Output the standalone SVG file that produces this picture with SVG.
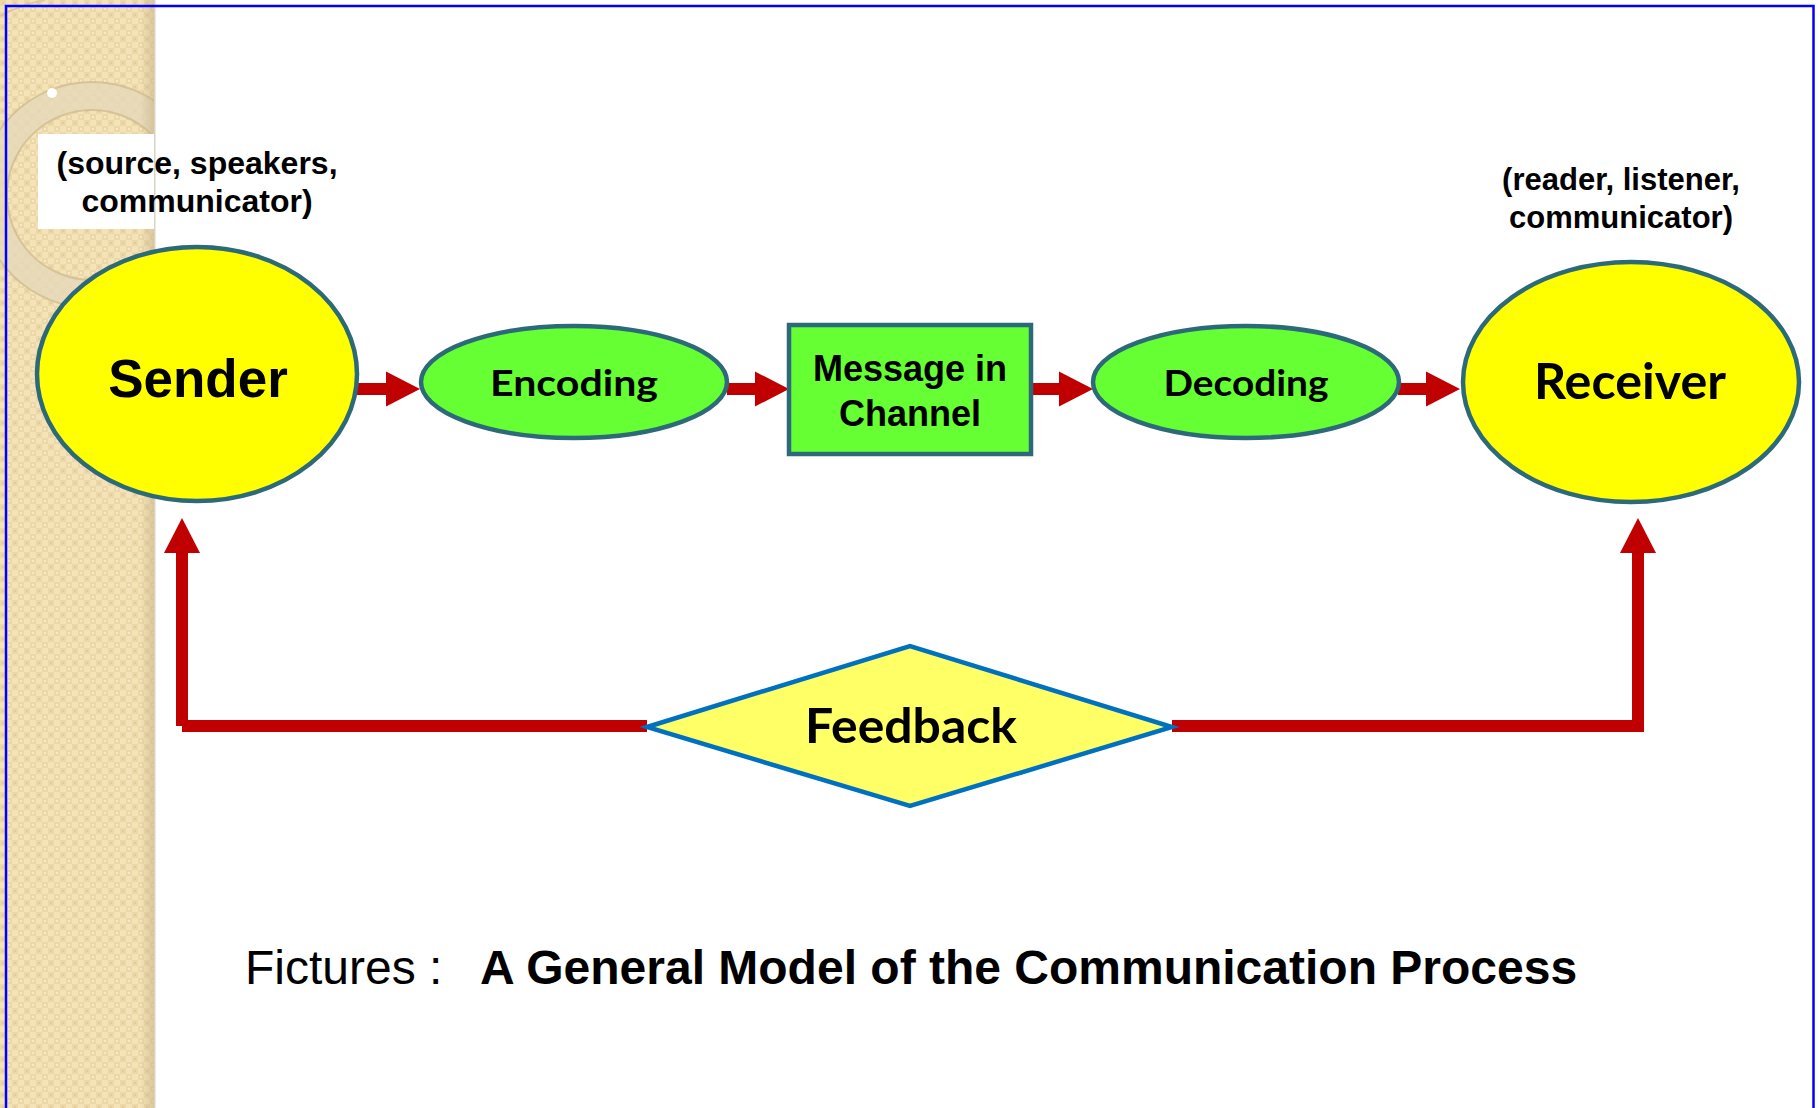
<svg xmlns="http://www.w3.org/2000/svg" width="1820" height="1108" viewBox="0 0 1820 1108">
  <defs>
    <pattern id="chk" x="0" y="0" width="12" height="12" patternUnits="userSpaceOnUse">
      <rect width="12" height="12" fill="#f5e3b8"/>
      <rect x="0" y="0" width="6" height="6" fill="#ecd7a9"/>
      <rect x="6" y="6" width="6" height="6" fill="#ecd7a9"/>
      <rect x="2" y="2" width="2" height="2" fill="#e3cc9c"/>
      <rect x="8" y="8" width="2" height="2" fill="#f8e9c4"/>
    </pattern>
    <linearGradient id="edge" x1="0" y1="0" x2="1" y2="0">
      <stop offset="0" stop-color="#c9b58a" stop-opacity="0"/>
      <stop offset="1" stop-color="#c9b58a" stop-opacity="0.6"/>
    </linearGradient>
    <clipPath id="stripclip">
      <rect x="0" y="0" width="154" height="1108"/>
    </clipPath>
    <style>
      .big { fill: #ffff00; stroke: #2d6a79; stroke-width: 4.5; }
      .green { fill: #66ff33; stroke: #2d6a79; stroke-width: 4.5; }
      .arrowhead { fill: #c00000; }
      .shaft { stroke: #c00000; stroke-width: 12; fill: none; }
      .fb { stroke: #c00000; stroke-width: 12; fill: none; }
      .arial { font-family: "Liberation Sans", Arial, sans-serif; font-weight: bold; fill: #000; text-anchor: middle; }
      .gill { font-family: Lato, "Open Sans", sans-serif; font-weight: bold; fill: #000; text-anchor: middle; }
    </style>
  </defs>

  <!-- background -->
  <rect x="0" y="0" width="1820" height="1108" fill="#ffffff"/>
  <g id="side-strip">
    <rect x="0" y="0" width="154" height="1108" fill="url(#chk)"/>
    <g clip-path="url(#stripclip)">
      <path d="M 0 16 A 160 160 0 0 1 45 0" fill="none" stroke="#d8c49a" stroke-width="2" opacity="0.8"/>
      <circle cx="92" cy="195" r="99" fill="none" stroke="#e6d8b8" stroke-width="28" opacity="0.85"/>
      <circle cx="92" cy="195" r="113" fill="none" stroke="#cdb88c" stroke-width="2" opacity="0.7"/>
      <circle cx="92" cy="195" r="85" fill="none" stroke="#cdb88c" stroke-width="2" opacity="0.7"/>
      <circle cx="52" cy="93" r="5" fill="#ffffff"/>
    </g>
    <rect x="140" y="0" width="14" height="1108" fill="url(#edge)"/>
    <rect x="154" y="0" width="1.5" height="1108" fill="#d9d3c6"/>
  </g>
  <rect id="frame" x="6" y="6" width="1807.5" height="1120" fill="none" stroke="#0000ff" stroke-width="2.5"/>

  <!-- connectors -->
  <g id="connectors">
    <line class="shaft" x1="356" y1="389" x2="388" y2="389"/>
    <polygon class="arrowhead" points="386,371.5 420,389 386,406.5"/>
    <line class="shaft" x1="727" y1="389" x2="757" y2="389"/>
    <polygon class="arrowhead" points="755,371.5 789,389 755,406.5"/>
    <line class="shaft" x1="1031" y1="389" x2="1061" y2="389"/>
    <polygon class="arrowhead" points="1059,371.5 1093,389 1059,406.5"/>
    <line class="shaft" x1="1398" y1="389" x2="1428" y2="389"/>
    <polygon class="arrowhead" points="1426,371.5 1460,389 1426,406.5"/>

    <line class="fb" x1="647" y1="726" x2="182" y2="726"/>
    <line class="fb" x1="182" y1="726" x2="182" y2="552"/>
    <polygon class="arrowhead" points="164,553 182,518 200,553"/>

    <line class="fb" x1="1172" y1="726" x2="1638" y2="726"/>
    <line class="fb" x1="1638" y1="732" x2="1638" y2="552"/>
    <polygon class="arrowhead" points="1620,553 1638,518 1656,553"/>
  </g>

  <!-- sender -->
  <g id="sender-label">
    <rect x="38" y="134" width="116" height="95" fill="#ffffff"/>
    <text class="arial" x="197" y="174" font-size="32">(source, speakers,</text>
    <text class="arial" x="197" y="212" font-size="32">communicator)</text>
  </g>
  <g id="sender">
    <ellipse class="big" cx="197" cy="374" rx="160" ry="127"/>
    <text class="arial" x="198" y="397" font-size="53">Sender</text>
  </g>

  <g id="encoding">
    <ellipse class="green" cx="574" cy="382" rx="153" ry="56"/>
    <text class="gill" x="574" y="396" font-size="37" textLength="168" lengthAdjust="spacingAndGlyphs">Encoding</text>
  </g>

  <g id="message">
    <rect class="green" x="789" y="325" width="242" height="129"/>
    <text class="arial" x="910" y="381" font-size="36">Message in</text>
    <text class="arial" x="910" y="426" font-size="36">Channel</text>
  </g>

  <g id="decoding">
    <ellipse class="green" cx="1246" cy="382" rx="153" ry="56"/>
    <text class="gill" x="1246" y="396" font-size="37" textLength="165" lengthAdjust="spacingAndGlyphs">Decoding</text>
  </g>

  <g id="receiver-label">
    <text class="arial" x="1621" y="190" font-size="31">(reader, listener,</text>
    <text class="arial" x="1621" y="228" font-size="31">communicator)</text>
  </g>
  <g id="receiver">
    <ellipse class="big" cx="1631" cy="382" rx="168" ry="120"/>
    <text class="gill" x="1630" y="399" font-size="50" textLength="192" lengthAdjust="spacingAndGlyphs">Receiver</text>
  </g>

  <g id="feedback">
    <polygon points="647,727 910,646 1172,727 910,806" fill="#ffff66" stroke="#0070c0" stroke-width="4.5" stroke-linejoin="miter"/>
    <text class="gill" x="911" y="743" font-size="47" textLength="212" lengthAdjust="spacingAndGlyphs">Feedback</text>
  </g>

  <g id="caption">
    <text x="245" y="984" font-family="'Liberation Sans', Arial, sans-serif" font-size="48" fill="#000">Fictures :</text>
    <text x="480" y="984" font-family="'Liberation Sans', Arial, sans-serif" font-size="48" font-weight="bold" fill="#000">A General Model of the Communication Process</text>
  </g>
</svg>
